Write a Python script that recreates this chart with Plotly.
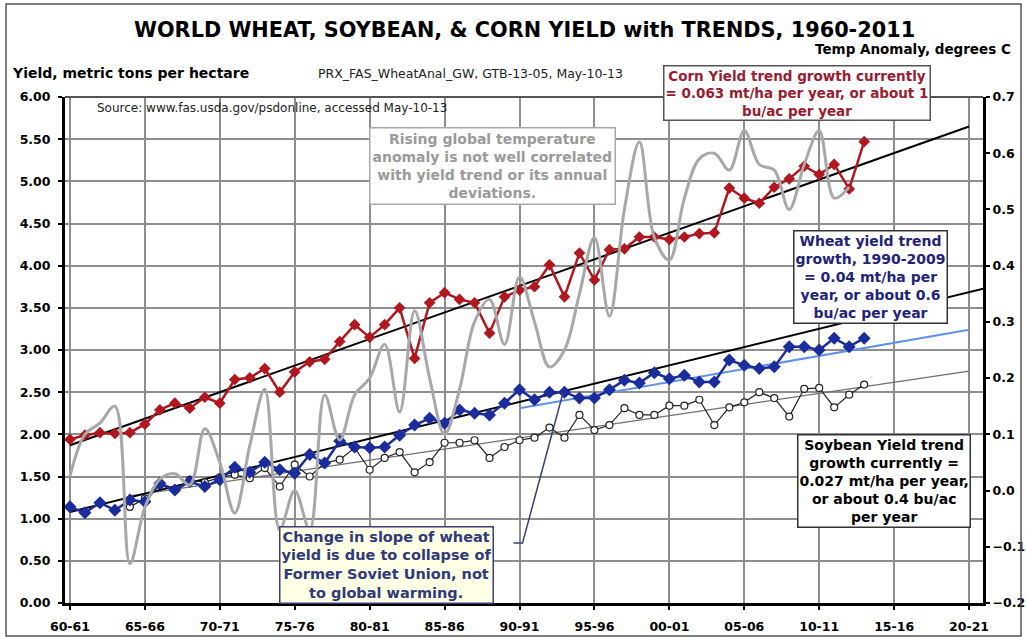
import plotly.graph_objects as go

# ---------------- data ----------------
YEARS = list(range(1960, 2014))
CORN = [1.94, 1.99, 2.02, 2.01, 2.02, 2.12, 2.29, 2.37, 2.31, 2.44,
        2.37, 2.65, 2.67, 2.78, 2.50, 2.74, 2.86, 2.89, 3.10, 3.30,
        3.15, 3.30, 3.50, 2.90, 3.56, 3.68, 3.60, 3.56, 3.20, 3.63,
        3.71, 3.75, 4.01, 3.63, 4.15, 3.83, 4.19, 4.20, 4.34, 4.34,
        4.31, 4.34, 4.38, 4.39, 4.92, 4.80, 4.74, 4.93, 5.03, 5.18,
        5.08, 5.20, 4.91, 5.47]
WHEAT = [1.14, 1.07, 1.19, 1.10, 1.22, 1.20, 1.42, 1.34, 1.44, 1.38,
         1.46, 1.61, 1.55, 1.67, 1.58, 1.54, 1.76, 1.66, 1.92, 1.85,
         1.84, 1.85, 1.99, 2.11, 2.19, 2.13, 2.29, 2.25, 2.23, 2.37,
         2.53, 2.41, 2.50, 2.50, 2.43, 2.43, 2.53, 2.64, 2.61, 2.73,
         2.66, 2.70, 2.62, 2.62, 2.88, 2.82, 2.78, 2.80, 3.04, 3.04,
         3.00, 3.14, 3.04, 3.14]
SOY_YEARS = list(range(1964, 2014))
SOY = [1.14, 1.24, 1.40, 1.34, 1.46, 1.43, 1.49, 1.52, 1.48, 1.60,
       1.38, 1.64, 1.50, 1.66, 1.70, 1.84, 1.58, 1.72, 1.79, 1.55,
       1.67, 1.90, 1.90, 1.93, 1.72, 1.85, 1.93, 1.96, 2.08, 1.96,
       2.23, 2.05, 2.11, 2.31, 2.23, 2.23, 2.34, 2.34, 2.41, 2.11,
       2.32, 2.38, 2.50, 2.43, 2.21, 2.54, 2.55, 2.32, 2.47, 2.59]
TEMP_YEARS = list(range(1960, 2013))
TEMP = [0.025, 0.10, 0.12, 0.15, -0.13, -0.03, 0.02, 0.03, 0.01, 0.11,
        0.05, -0.04, 0.08, 0.18, -0.07, 0.00, -0.07, 0.17, 0.09, 0.17,
        0.20, 0.26, 0.14, 0.32, 0.20, 0.10, 0.18, 0.30, 0.34, 0.26,
        0.38, 0.30, 0.22, 0.25, 0.35, 0.45, 0.31, 0.50, 0.62, 0.45,
        0.41, 0.52, 0.59, 0.60, 0.57, 0.64, 0.58, 0.57, 0.50, 0.58,
        0.64, 0.52, 0.54]

# trend line end points
CORN_TREND_X = [1960, 2020]
CORN_TREND_Y = [1.87, 5.65]
WHEAT_TREND_X = [1960, 2021]
WHEAT_TREND_Y = [1.08, 3.73]
WHEAT90_TREND_X = [1990, 2020]
WHEAT90_TREND_Y = [2.31, 3.24]
SOY_TREND_X = [1964, 2020]
SOY_TREND_Y = [1.27, 2.75]

X_TICK_YEARS = list(range(1960, 2021, 5))
X_TICK_LABELS = ["60-61", "65-66", "70-71", "75-76", "80-81", "85-86", "90-91",
                 "95-96", "00-01", "05-06", "10-11", "15-16", "20-21"]

# ---------------- styling ----------------
FONT = "DejaVu Sans, Verdana, sans-serif"
RED = "#B0171F"
BLUE = "#1B2C9C"
LIGHTBLUE = "#5F93E6"
GRAY = "#A8A8A8"
GRID = "#8E8E8E"

W_FIG, H_FIG = 1026, 640
L, R, T, B = 65, 983, 97, 603


def px(x):
    return (x - L) / (R - L)


def py(y):
    return (B - y) / (B - T)


fig = go.Figure()

# temperature anomaly (secondary axis)
fig.add_trace(go.Scatter(x=TEMP_YEARS, y=TEMP, yaxis="y2", mode="lines",
                         line=dict(color=GRAY, width=3, shape="spline", smoothing=1.0),
                         hoverinfo="skip"))

# trend lines
fig.add_trace(go.Scatter(x=SOY_TREND_X, y=SOY_TREND_Y, mode="lines",
                         line=dict(color="#707070", width=1.3)))
fig.add_trace(go.Scatter(x=WHEAT90_TREND_X, y=WHEAT90_TREND_Y, mode="lines",
                         line=dict(color=LIGHTBLUE, width=2)))
fig.add_trace(go.Scatter(x=WHEAT_TREND_X, y=WHEAT_TREND_Y, mode="lines",
                         line=dict(color="black", width=2)))
fig.add_trace(go.Scatter(x=CORN_TREND_X, y=CORN_TREND_Y, mode="lines",
                         line=dict(color="black", width=2)))

# series
fig.add_trace(go.Scatter(x=SOY_YEARS, y=SOY, mode="lines+markers",
                         line=dict(color="#222222", width=1.2),
                         marker=dict(symbol="circle", size=7, color="white",
                                     line=dict(color="#222222", width=1.2))))
fig.add_trace(go.Scatter(x=YEARS, y=WHEAT, mode="lines+markers",
                         line=dict(color=BLUE, width=2.5),
                         marker=dict(symbol="diamond", size=10, color=BLUE)))
fig.add_trace(go.Scatter(x=YEARS, y=CORN, mode="lines+markers",
                         line=dict(color=RED, width=2.5),
                         marker=dict(symbol="diamond", size=9, color=RED)))

TICKFONT = dict(size=12.5, family=FONT, weight="bold")
fig.update_layout(
    template="none",
    width=W_FIG, height=H_FIG, autosize=False,
    margin=dict(l=L, r=W_FIG - R, t=T, b=H_FIG - B, pad=0, autoexpand=False),
    paper_bgcolor="white", plot_bgcolor="white",
    showlegend=False,
    font=dict(family=FONT, color="black"),
    xaxis=dict(range=[1959.67, 2020.93], tickmode="array",
               tickvals=X_TICK_YEARS, ticktext=X_TICK_LABELS, automargin=False,
               showgrid=True, gridcolor=GRID, gridwidth=1.5,
               showline=True, linecolor="black", linewidth=3,
               ticks="outside", ticklen=4, tickcolor="black", tickwidth=1.5,
               ticklabelstandoff=6,
               tickfont=TICKFONT, zeroline=False),
    yaxis=dict(range=[0, 6], dtick=0.5, tickformat=".2f", automargin=False,
               showgrid=True, gridcolor=GRID, gridwidth=1.5,
               showline=True, linecolor="black", linewidth=3,
               ticks="outside", ticklen=4, tickcolor="black", tickwidth=1.5,
               ticklabelstandoff=5,
               tickfont=TICKFONT, zeroline=False),
    yaxis2=dict(range=[-0.2, 0.7], dtick=0.1, tickformat=".1f", automargin=False,
                overlaying="y", side="right", showgrid=False,
                showline=True, linecolor="black", linewidth=3,
                ticks="outside", ticklen=4, tickcolor="black", tickwidth=1.5,
                tickfont=TICKFONT, zeroline=False),
)

# top border of plot area
fig.add_shape(type="line", xref="paper", yref="paper", x0=0, x1=1, y0=1, y1=1,
              line=dict(color="#555555", width=2))
# outer frame
fig.add_shape(type="rect", xref="paper", yref="paper",
              x0=px(6), x1=px(1021), y0=py(636), y1=py(4),
              line=dict(color="#555555", width=1.5))

# connector from the Soviet-Union box
fig.add_shape(type="path", xref="x", yref="y",
              path="M 1989.6,0.71 L 1990.2,0.71 L 1992.9,2.49",
              line=dict(color="#3A3F7A", width=1.5))

ann = []


def text(x, y, s, size, color="black", bold=False, xanchor="center", **kw):
    ann.append(dict(x=px(x), y=py(y), xref="paper", yref="paper", text=s,
                    showarrow=False, xanchor=xanchor, yanchor="middle",
                    font=dict(family=FONT, size=size, color=color,
                              weight="bold" if bold else "normal"), **kw))


text(524, 30, "WORLD WHEAT, SOYBEAN, &amp; CORN YIELD with TRENDS, 1960-2011", 20.8, bold=True)
text(1013, 49, "Temp Anomaly, degrees C", 13.5, bold=True, xanchor="right")
text(10, 73, "Yield, metric tons per hectare", 14, bold=True, xanchor="left")
text(470, 73, "PRX_FAS_WheatAnal_GW, GTB-13-05, May-10-13", 12.5, color="#222222")
text(272, 108, "Source: www.fas.usda.gov/psdonline, accessed May-10-13", 12, color="#222222")

text(492, 166, "Rising global temperature<br>anomaly is not well correlated<br>with yield trend or its annual<br>deviations.",
     14, color="#9A9A9A", bold=True, bordercolor="#A8A8A8", borderwidth=1.5,
     bgcolor="white", borderpad=2)
text(797, 93, "Corn Yield trend growth currently<br>= 0.063 mt/ha per year, or about 1<br>bu/ac per year",
     13.5, color="#9B1B30", bold=True, bordercolor="#555555", borderwidth=1.5,
     bgcolor="white", borderpad=1)
text(870, 277, "Wheat yield trend<br>growth, 1990-2009<br>= 0.04 mt/ha per<br>year, or about 0.6<br>bu/ac per year",
     14, color="#1F237A", bold=True, bordercolor="#333333", borderwidth=1.5,
     bgcolor="white", borderpad=1)
text(884, 481, "Soybean Yield trend<br>growth currently =<br>0.027 mt/ha per year,<br>or about 0.4 bu/ac<br>per year",
     14, color="black", bold=True, bordercolor="#333333", borderwidth=1.5,
     bgcolor="white", borderpad=1)
text(386, 565, "Change in slope of wheat<br>yield is due to collapse of<br>Former Soviet Union, not<br>to global warming.",
     14.5, color="#2E3A7A", bold=True, bordercolor="#3A3F7A", borderwidth=1.5,
     bgcolor="#FFFFE6", borderpad=1)

fig.update_layout(annotations=ann)

fig.write_html("out.html", config={"displayModeBar": False},
               post_script="document.body.style.margin='0';document.body.style.overflow='hidden';")
